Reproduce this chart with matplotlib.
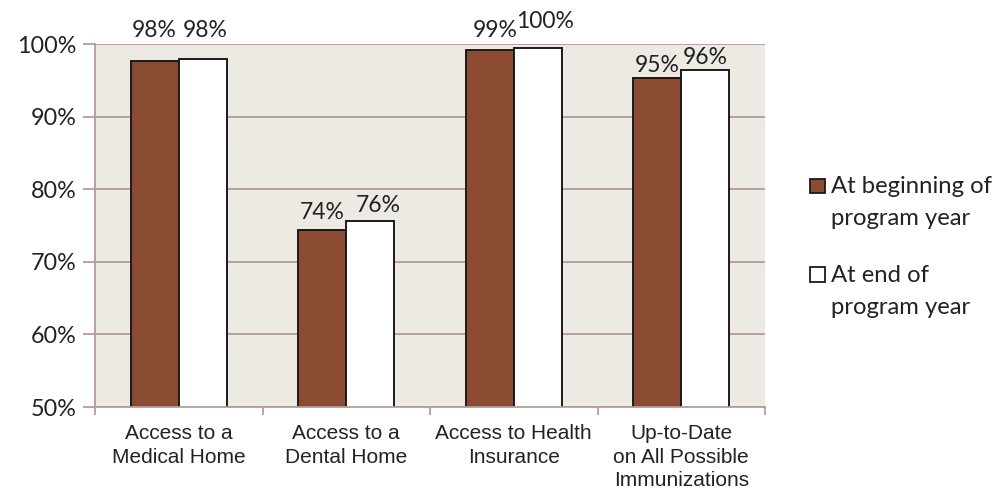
import matplotlib
matplotlib.use("Agg")
import matplotlib.pyplot as plt
import numpy as np
from matplotlib import font_manager
from matplotlib.patches import Rectangle

categories = ["Access to a\nMedical Home", "Access to a\nDental Home",
              "Access to Health\nInsurance", "Up-to-Date\non All Possible\nImmunizations"]
beginning = [97.7, 74.4, 99.2, 95.4]
end = [97.9, 75.7, 99.5, 96.4]
series_names = ["At beginning of\nprogram year", "At end of\nprogram year"]
yticks = [50, 60, 70, 80, 90, 100]

# hand-placed data label nudges (pixels): horizontal shift, baseline height above bar top
label_dx = [[0, 0, 6, 0], [2, 8, 7, 0]]
label_dy = [[23.5, 11, 13, 6], [22.5, 9, 19.5, 6]]

installed = {f.name for f in font_manager.fontManager.ttflist}
main_font = "Lato" if "Lato" in installed else "DejaVu Sans"
cat_font = "Liberation Sans Narrow" if "Liberation Sans Narrow" in installed else "Liberation Sans"

brown = "#8B4A32"
bg = "#EDE9E3"
grid_c = "#B49C9C"
text_c = "#222222"
edge_c = "#1a1a1a"

W, H = 1000, 491
fig = plt.figure(figsize=(W / 100, H / 100), dpi=100)
ax = fig.add_axes([0.095, 0.171, 0.67, 0.739])
ax.set_facecolor(bg)

x = np.arange(len(categories))
w = 0.288
b1 = ax.bar(x - w / 2, beginning, w, color=brown, edgecolor=edge_c, linewidth=1.4, zorder=3)
b2 = ax.bar(x + w / 2, end, w, color="white", edgecolor=edge_c, linewidth=1.4, zorder=3)

ax.set_ylim(50, 100)
ax.set_xlim(-0.5, len(categories) - 0.5)
ax.set_yticks(yticks)
ax.set_yticklabels([f"{v}%" for v in yticks], fontfamily=main_font, fontsize=16.8, color=text_c)
ax.yaxis.grid(True, color=grid_c, linewidth=1.3, zorder=0)
ax.tick_params(axis="y", length=9, width=1.3, color=grid_c, pad=4)

ax.set_xticks(np.arange(len(categories) + 1) - 0.5, minor=True)
ax.set_xticks(x)
ax.set_xticklabels(categories, fontfamily=cat_font, fontsize=15, color=text_c,
                   linespacing=1.32)
ax.tick_params(axis="x", which="major", length=0, pad=12)
ax.tick_params(axis="x", which="minor", length=6, width=1.3, color=grid_c)

for s in ["top", "right"]:
    ax.spines[s].set_visible(False)
for s in ["left", "bottom"]:
    ax.spines[s].set_color(grid_c)
    ax.spines[s].set_linewidth(1.3)
ax.spines["bottom"].set_zorder(4)

for k, (bars, vals) in enumerate(((b1, beginning), (b2, end))):
    for i, (rect, v) in enumerate(zip(bars, vals)):
        ax.annotate(f"{v:.0f}%", (rect.get_x() + rect.get_width() / 2, v),
                    xytext=(label_dx[k][i] * 0.72, label_dy[k][i] * 0.72),
                    textcoords="offset points", ha="center", va="baseline",
                    fontfamily=main_font, fontsize=16.5, color=text_c,
                    annotation_clip=False)

# legend drawn in figure pixel coordinates
legend_faces = [brown, "white"]
for i, (name, face) in enumerate(zip(series_names, legend_faces)):
    base = 193 + 88.5 * i
    fig.patches.append(Rectangle((810 / W, 1 - base / H), 14.5 / W, 14.5 / H,
                                 transform=fig.transFigure, facecolor=face,
                                 edgecolor=edge_c, linewidth=1.3))
    for j, line in enumerate(name.split("\n")):
        fig.text(831 / W, 1 - (base + 32.3 * j) / H, line, ha="left", va="baseline",
                 fontfamily=main_font, fontsize=17.2, color=text_c)

fig.savefig("out.png", dpi=100)
